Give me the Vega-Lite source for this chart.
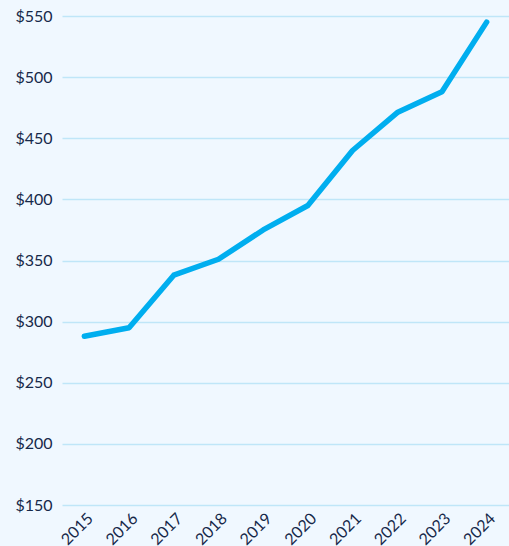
{
  "$schema": "https://vega.github.io/schema/vega-lite/v6.json",
  "width": 447,
  "height": 489,
  "autosize": {"type": "none"},
  "padding": {"left": 62, "top": 16, "right": 0, "bottom": 41},
  "background": "#f0f8ff",
  "config": {
    "view": {"stroke": null},
    "font": "Lato",
    "axis": {"labelFont": "Lato", "labelColor": "#17294a", "labelFontSize": 16, "domain": false, "ticks": false, "title": null}
  },
  "data": {"values": [
    {"year": "2015", "value": 288},
    {"year": "2016", "value": 295},
    {"year": "2017", "value": 338},
    {"year": "2018", "value": 351},
    {"year": "2019", "value": 375},
    {"year": "2020", "value": 395},
    {"year": "2021", "value": 440},
    {"year": "2022", "value": 471},
    {"year": "2023", "value": 488},
    {"year": "2024", "value": 545}
  ]},
  "mark": {"type": "line", "color": "#00aeef", "strokeWidth": 5.5, "strokeCap": "round", "strokeJoin": "round"},
  "encoding": {
    "x": {"field": "year", "type": "ordinal", "scale": {"type": "point", "padding": 0.5}, "axis": {"labelAngle": -45, "grid": false, "labelPadding": 5}},
    "y": {"field": "value", "type": "quantitative", "scale": {"domain": [150, 550], "nice": false, "zero": false}, "axis": {"values": [150, 200, 250, 300, 350, 400, 450, 500, 550], "labelExpr": "'$' + datum.value", "grid": true, "gridColor": "#bfe6f8", "gridWidth": 1.5, "labelPadding": 10}}
  }
}
